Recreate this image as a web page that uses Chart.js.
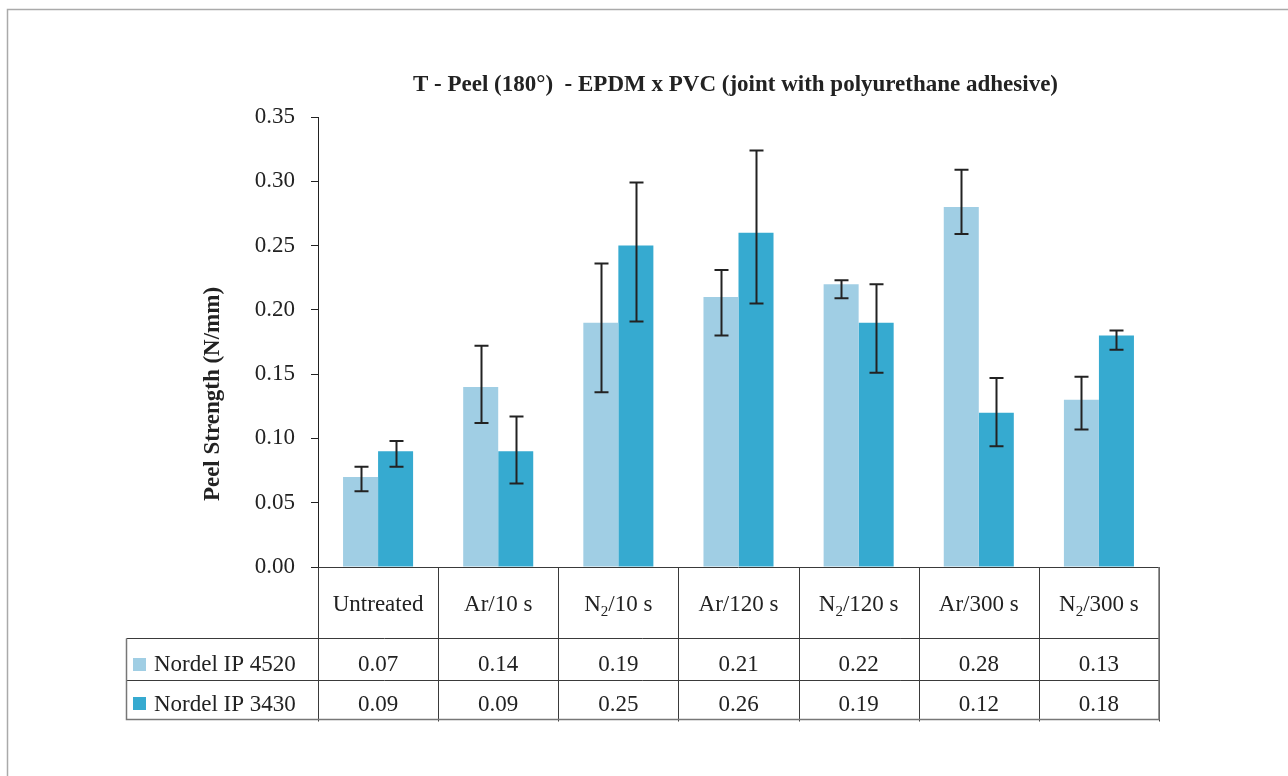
<!DOCTYPE html>
<html>
<head>
<meta charset="utf-8">
<script src="https://cdn.jsdelivr.net/npm/chart.js@4/dist/chart.umd.min.js"></script>
<style>
  html, body { margin: 0; padding: 0; background: #ffffff; }
  #wrap { position: relative; width: 1288px; height: 776px; }
  canvas { display: block; }
</style>
</head>
<body>
<div id="wrap"><canvas id="peel" width="1288" height="776"></canvas></div>
<script>
// Treatments (N₂ subscript is rendered as a lowered small digit)
const categories = ['Untreated', 'Ar/10 s', 'N₂/10 s', 'Ar/120 s', 'N₂/120 s', 'Ar/300 s', 'N₂/300 s'];
const seriesNames = ['Nordel IP 4520', 'Nordel IP 3430'];

// Mean peel strength (N/mm)
const nordel4520 = [0.07, 0.14, 0.19, 0.21, 0.22, 0.28, 0.13];
const nordel3430 = [0.09, 0.09, 0.25, 0.26, 0.19, 0.12, 0.18];

// Error bar limits (N/mm)
const err4520Low  = [0.059, 0.112, 0.136, 0.180, 0.209, 0.259, 0.107];
const err4520High = [0.078, 0.172, 0.236, 0.231, 0.223, 0.309, 0.148];
const err3430Low  = [0.078, 0.065, 0.191, 0.205, 0.151, 0.094, 0.169];
const err3430High = [0.098, 0.117, 0.299, 0.324, 0.220, 0.147, 0.184];

// Value axis
const yMin = 0, yMax = 0.35, yStep = 0.05;

const titleText = 'T - Peel (180°)  - EPDM x PVC (joint with polyurethane adhesive)';
const yTitleText = 'Peel Strength (N/mm)';

const colors = ['#A0CEE4', '#36AAD0'];
const serif = '"Liberation Serif", "Times New Roman", serif';
const ink = '#222222';
const textSize = 23;

// Draw a label where "₂" becomes a small lowered "2"
function richRuns(text) {
  const runs = [];
  let cur = '';
  for (const ch of text) {
    if (ch === '₂') {
      if (cur) runs.push({ t: cur, sub: false });
      runs.push({ t: '2', sub: true });
      cur = '';
    } else cur += ch;
  }
  if (cur) runs.push({ t: cur, sub: false });
  return runs;
}
function drawRich(ctx, text, cx, cy, size) {
  const runs = richRuns(text);
  const subSize = Math.round(size * 0.66);
  let total = 0;
  runs.forEach(r => {
    ctx.font = (r.sub ? subSize : size) + 'px ' + serif;
    r.w = ctx.measureText(r.t).width;
    total += r.w;
  });
  let x = cx - total / 2;
  ctx.textAlign = 'left';
  ctx.textBaseline = 'alphabetic';
  runs.forEach(r => {
    ctx.font = (r.sub ? subSize : size) + 'px ' + serif;
    ctx.fillText(r.t, x, cy + (r.sub ? size * 0.22 : 0));
    x += r.w;
  });
}

const decorations = {
  id: 'decorations',
  beforeDraw(chart) {
    const ctx = chart.ctx;
    ctx.save();
    ctx.fillStyle = '#ffffff';
    ctx.fillRect(0, 0, chart.width, chart.height);
    // page frame
    ctx.strokeStyle = '#aaaaaa';
    ctx.lineWidth = 1.5;
    ctx.beginPath();
    ctx.moveTo(7.5, chart.height);
    ctx.lineTo(7.5, 9.5);
    ctx.lineTo(chart.width, 9.5);
    ctx.stroke();
    ctx.restore();
  },
  afterDatasetsDraw(chart) {
    const ctx = chart.ctx;
    const ys = chart.scales.y;
    const lows = [err4520Low, err3430Low];
    const highs = [err4520High, err3430High];
    ctx.save();
    ctx.strokeStyle = ink;
    ctx.lineWidth = 2;
    chart.data.datasets.forEach((ds, di) => {
      const meta = chart.getDatasetMeta(di);
      meta.data.forEach((bar, i) => {
        const x = Math.round(bar.x) + 0.5;
        const yH = ys.getPixelForValue(highs[di][i]);
        const yL = ys.getPixelForValue(lows[di][i]);
        ctx.beginPath();
        ctx.moveTo(x, yH); ctx.lineTo(x, yL);
        ctx.moveTo(x - 7, yH); ctx.lineTo(x + 7, yH);
        ctx.moveTo(x - 7, yL); ctx.lineTo(x + 7, yL);
        ctx.stroke();
      });
    });
    ctx.restore();
  },
  afterDraw(chart) {
    const ctx = chart.ctx;
    const area = chart.chartArea;
    const n = categories.length;
    const colW = (area.right - area.left) / n;
    const legendLeft = 126.5;
    const rowTop = area.bottom;
    const row1 = 638.5, row2 = 680.5, rowEnd = 719.5;
    ctx.save();

    // title
    ctx.fillStyle = ink;
    ctx.font = 'bold 23px ' + serif;
    ctx.textAlign = 'center';
    ctx.textBaseline = 'alphabetic';
    ctx.fillText(titleText, (area.left + area.right) / 2 - 3, 91);

    // value axis title
    ctx.save();
    ctx.translate(219, 394);
    ctx.rotate(-Math.PI / 2);
    ctx.font = 'bold 23px ' + serif;
    ctx.textAlign = 'center';
    ctx.fillText(yTitleText, 0, 0);
    ctx.restore();

    // data table grid
    ctx.strokeStyle = '#3a3a3a';
    ctx.lineWidth = 1;
    ctx.beginPath();
    ctx.moveTo(area.left, Math.round(rowTop) + 0.5);
    ctx.lineTo(area.right, Math.round(rowTop) + 0.5);
    ctx.moveTo(legendLeft, row1); ctx.lineTo(area.right, row1);
    ctx.moveTo(legendLeft, row2); ctx.lineTo(area.right, row2);
    for (let i = 0; i <= n; i++) {
      const x = Math.round(area.left + i * colW) + 0.5;
      ctx.moveTo(x, rowTop); ctx.lineTo(x, rowEnd + 2);
    }
    ctx.stroke();
    ctx.strokeStyle = '#777777';
    ctx.lineWidth = 1.5;
    ctx.beginPath();
    ctx.moveTo(legendLeft, row1); ctx.lineTo(legendLeft, rowEnd);
    ctx.lineTo(area.right, rowEnd);
    ctx.lineTo(area.right, rowTop);
    ctx.stroke();

    // category labels
    ctx.fillStyle = ink;
    categories.forEach((c, i) => {
      drawRich(ctx, c, area.left + (i + 0.5) * colW, 611, textSize);
    });

    // series rows
    const series = [nordel4520, nordel3430];
    const baselines = [671, 711];
    const swatchTops = [658, 697];
    series.forEach((vals, si) => {
      ctx.fillStyle = colors[si];
      ctx.fillRect(133, swatchTops[si], 13, 13);
      ctx.fillStyle = ink;
      ctx.font = textSize + 'px ' + serif;
      ctx.textAlign = 'left';
      ctx.fillText(seriesNames[si], 154, baselines[si]);
      ctx.textAlign = 'center';
      vals.forEach((v, i) => {
        ctx.fillText(v.toFixed(2), area.left + (i + 0.5) * colW, baselines[si]);
      });
    });
    ctx.restore();
  }
};

new Chart(document.getElementById('peel'), {
  type: 'bar',
  data: {
    labels: categories,
    datasets: [
      { label: seriesNames[0], data: nordel4520, backgroundColor: colors[0] },
      { label: seriesNames[1], data: nordel3430, backgroundColor: colors[1] }
    ]
  },
  options: {
    responsive: false,
    animation: false,
    devicePixelRatio: 1,
    layout: { padding: { top: 117, right: 129, bottom: 209, left: 0 } },
    datasets: { bar: { categoryPercentage: 0.583, barPercentage: 1 } },
    plugins: {
      legend: { display: false },
      tooltip: { enabled: false },
      title: { display: false }
    },
    scales: {
      x: { display: false },
      y: {
        min: yMin,
        max: yMax,
        ticks: {
          stepSize: yStep,
          callback: v => v.toFixed(2),
          font: { family: serif, size: textSize },
          color: ink,
          padding: 16
        },
        grid: { drawOnChartArea: false, drawTicks: true, tickLength: 7, color: ink },
        border: { display: true, color: ink, width: 1 },
        afterFit: s => { s.width = 318; }
      }
    }
  },
  plugins: [decorations]
});
</script>
</body>
</html>
